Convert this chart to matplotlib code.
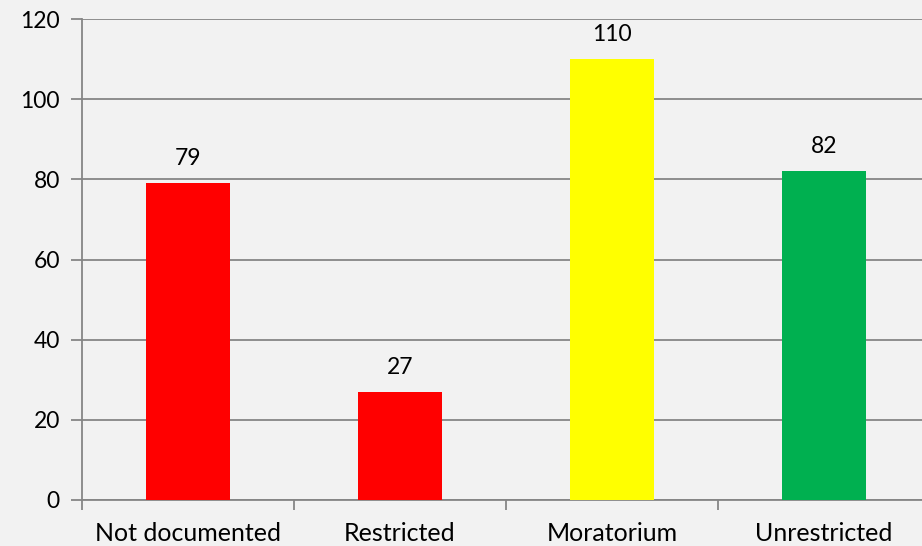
import matplotlib
matplotlib.use("Agg")
import matplotlib.pyplot as plt
from matplotlib.ticker import FixedLocator, NullFormatter

categories = ["Not documented", "Restricted", "Moratorium", "Unrestricted"]
counts = [79, 27, 110, 82]
bar_colors = ["#FF0000", "#FF0000", "#FFFF00", "#00B050"]
y_ticks = [0, 20, 40, 60, 80, 100, 120]

plt.rcParams["font.family"] = ["Lato", "DejaVu Sans"]

bg = "#F2F2F2"
line_col = "#868686"

fig = plt.figure(figsize=(9.22, 5.46), dpi=100, facecolor=bg)
# plot area runs a little past the right edge of the figure
ax = fig.add_axes([82 / 922, 46 / 546, 848 / 922, 481 / 546])
ax.set_facecolor(bg)

x = range(len(categories))
bars = ax.bar(x, counts, width=0.4, color=bar_colors, zorder=3)

for rect, v in zip(bars, counts):
    ax.annotate(str(v), (rect.get_x() + rect.get_width() / 2, v),
                xytext=(0, 10), textcoords="offset points",
                ha="center", va="bottom", fontsize=16.5, color="#000000")

ax.set_xlim(-0.5, len(categories) - 0.5)
ax.set_ylim(0, 120)
ax.set_yticks(y_ticks)
ax.set_yticklabels([str(t) for t in y_ticks], fontsize=16.5)
ax.yaxis.grid(True, color=line_col, linewidth=1.3, zorder=0)

# category labels centred, tick marks between categories
ax.set_xticks(list(x))
ax.set_xticklabels(categories, fontsize=18)
ax.tick_params(axis="x", which="major", length=0, pad=16)
ax.xaxis.set_minor_locator(FixedLocator([i - 0.5 for i in range(len(categories) + 1)]))
ax.xaxis.set_minor_formatter(NullFormatter())
ax.tick_params(axis="x", which="minor", length=7, width=1.3, color=line_col)
ax.tick_params(axis="y", length=8, width=1.3, color=line_col, pad=8)

for side in ("top", "right"):
    ax.spines[side].set_visible(False)
for side in ("left", "bottom"):
    ax.spines[side].set_color(line_col)
    ax.spines[side].set_linewidth(1.3)

fig.savefig("out.png", dpi=100, facecolor=bg)
